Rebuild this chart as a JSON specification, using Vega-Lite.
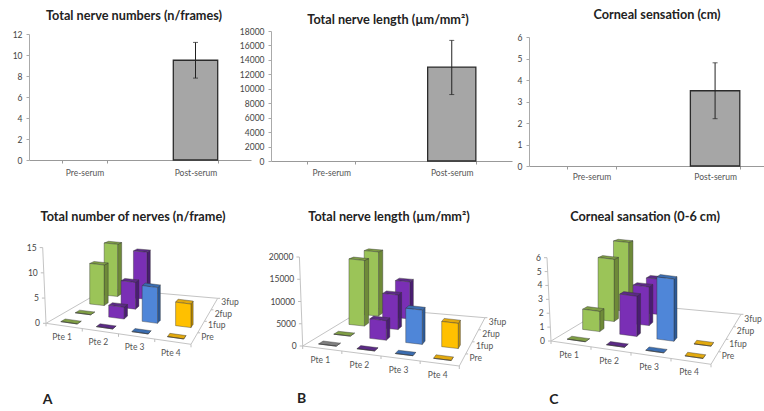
{"$schema":"https://vega.github.io/schema/vega-lite/v6.json","padding":{"left":12,"top":0,"right":0,"bottom":0},"background":"white","spacing":30,
"config":{"view":{"stroke":null},"font":"Lato","concat":{"spacing":0}},
"params":[{"name":"P","value":{"A":{"x00":45,"y00":322.3,"x10":190,"y10":343.3,"x11":216.7,"y11":297.3,"x01":105,"y01":287.7,"H":75.7,"zmax":15,"sl":3.3,"ox":12,"oy":225},"B":{"x00":301.7,"y00":345,"x10":458.3,"y10":365,"x11":484,"y11":316.7,"x01":365,"y01":306.7,"H":89,"zmax":20000,"sl":3.3,"ox":268,"oy":225},"C":{"x00":550,"y00":340,"x10":710,"y10":363.3,"x11":740,"y11":313.3,"x01":614,"y01":301.7,"H":83.3,"zmax":6,"sl":4,"ox":524,"oy":225}}}],
"datasets":{"summary":[
{"panel":"A","group":"Pre-serum","value":0},{"panel":"A","group":"Post-serum","value":9.5,"lo":7.8,"hi":11.2},
{"panel":"B","group":"Pre-serum","value":0},{"panel":"B","group":"Post-serum","value":13000,"lo":9200,"hi":16700},
{"panel":"C","group":"Pre-serum","value":0},{"panel":"C","group":"Post-serum","value":3.5,"lo":2.2,"hi":4.8}],
"followup":[
{"panel":"A","kind":"line","line":"floor","seq":0,"p":0,"v":0,"value":0},{"panel":"A","kind":"line","line":"floor","seq":1,"p":4,"v":0,"value":0},{"panel":"A","kind":"line","line":"floor","seq":2,"p":4,"v":4,"value":0},{"panel":"A","kind":"line","line":"floor","seq":3,"p":0,"v":4,"value":0},{"panel":"A","kind":"line","line":"floor","seq":4,"p":0,"v":0,"value":0},{"panel":"A","kind":"line","line":"axis","seq":0,"p":0,"v":0,"value":0},{"panel":"A","kind":"line","line":"axis","seq":1,"p":0,"v":0,"value":15},
{"panel":"B","kind":"line","line":"floor","seq":0,"p":0,"v":0,"value":0},{"panel":"B","kind":"line","line":"floor","seq":1,"p":4,"v":0,"value":0},{"panel":"B","kind":"line","line":"floor","seq":2,"p":4,"v":4,"value":0},{"panel":"B","kind":"line","line":"floor","seq":3,"p":0,"v":4,"value":0},{"panel":"B","kind":"line","line":"floor","seq":4,"p":0,"v":0,"value":0},{"panel":"B","kind":"line","line":"axis","seq":0,"p":0,"v":0,"value":0},{"panel":"B","kind":"line","line":"axis","seq":1,"p":0,"v":0,"value":20000},
{"panel":"C","kind":"line","line":"floor","seq":0,"p":0,"v":0,"value":0},{"panel":"C","kind":"line","line":"floor","seq":1,"p":4,"v":0,"value":0},{"panel":"C","kind":"line","line":"floor","seq":2,"p":4,"v":4,"value":0},{"panel":"C","kind":"line","line":"floor","seq":3,"p":0,"v":4,"value":0},{"panel":"C","kind":"line","line":"floor","seq":4,"p":0,"v":0,"value":0},{"panel":"C","kind":"line","line":"axis","seq":0,"p":0,"v":0,"value":0},{"panel":"C","kind":"line","line":"axis","seq":1,"p":0,"v":0,"value":6},

{"panel":"A","kind":"ptick","p":0,"v":0,"value":0},{"panel":"A","kind":"ptick","p":1,"v":0,"value":0},{"panel":"A","kind":"ptick","p":2,"v":0,"value":0},{"panel":"A","kind":"ptick","p":3,"v":0,"value":0},{"panel":"A","kind":"ptick","p":4,"v":0,"value":0},{"panel":"A","kind":"vtick","p":4,"v":1,"value":0},{"panel":"A","kind":"vtick","p":4,"v":2,"value":0},{"panel":"A","kind":"vtick","p":4,"v":3,"value":0},{"panel":"A","kind":"vtick","p":4,"v":4,"value":0},
{"panel":"B","kind":"ptick","p":0,"v":0,"value":0},{"panel":"B","kind":"ptick","p":1,"v":0,"value":0},{"panel":"B","kind":"ptick","p":2,"v":0,"value":0},{"panel":"B","kind":"ptick","p":3,"v":0,"value":0},{"panel":"B","kind":"ptick","p":4,"v":0,"value":0},{"panel":"B","kind":"vtick","p":4,"v":1,"value":0},{"panel":"B","kind":"vtick","p":4,"v":2,"value":0},{"panel":"B","kind":"vtick","p":4,"v":3,"value":0},{"panel":"B","kind":"vtick","p":4,"v":4,"value":0},
{"panel":"C","kind":"ptick","p":0,"v":0,"value":0},{"panel":"C","kind":"ptick","p":1,"v":0,"value":0},{"panel":"C","kind":"ptick","p":2,"v":0,"value":0},{"panel":"C","kind":"ptick","p":3,"v":0,"value":0},{"panel":"C","kind":"ptick","p":4,"v":0,"value":0},{"panel":"C","kind":"vtick","p":4,"v":1,"value":0},{"panel":"C","kind":"vtick","p":4,"v":2,"value":0},{"panel":"C","kind":"vtick","p":4,"v":3,"value":0},{"panel":"C","kind":"vtick","p":4,"v":4,"value":0},

{"panel":"A","kind":"zlab","p":0,"v":0,"value":0,"label":"0"},{"panel":"A","kind":"zlab","p":0,"v":0,"value":5,"label":"5"},{"panel":"A","kind":"zlab","p":0,"v":0,"value":10,"label":"10"},{"panel":"A","kind":"zlab","p":0,"v":0,"value":15,"label":"15"},
{"panel":"B","kind":"zlab","p":0,"v":0,"value":0,"label":"0"},{"panel":"B","kind":"zlab","p":0,"v":0,"value":5000,"label":"5000"},{"panel":"B","kind":"zlab","p":0,"v":0,"value":10000,"label":"10000"},{"panel":"B","kind":"zlab","p":0,"v":0,"value":15000,"label":"15000"},{"panel":"B","kind":"zlab","p":0,"v":0,"value":20000,"label":"20000"},
{"panel":"C","kind":"zlab","p":0,"v":0,"value":0,"label":"0"},{"panel":"C","kind":"zlab","p":0,"v":0,"value":1,"label":"1"},{"panel":"C","kind":"zlab","p":0,"v":0,"value":2,"label":"2"},{"panel":"C","kind":"zlab","p":0,"v":0,"value":3,"label":"3"},{"panel":"C","kind":"zlab","p":0,"v":0,"value":4,"label":"4"},{"panel":"C","kind":"zlab","p":0,"v":0,"value":5,"label":"5"},{"panel":"C","kind":"zlab","p":0,"v":0,"value":6,"label":"6"},

{"panel":"A","kind":"plab","p":0.5,"v":0,"value":0,"label":"Pte 1"},{"panel":"A","kind":"plab","p":1.5,"v":0,"value":0,"label":"Pte 2"},{"panel":"A","kind":"plab","p":2.5,"v":0,"value":0,"label":"Pte 3"},{"panel":"A","kind":"plab","p":3.5,"v":0,"value":0,"label":"Pte 4"},
{"panel":"B","kind":"plab","p":0.5,"v":0,"value":0,"label":"Pte 1"},{"panel":"B","kind":"plab","p":1.5,"v":0,"value":0,"label":"Pte 2"},{"panel":"B","kind":"plab","p":2.5,"v":0,"value":0,"label":"Pte 3"},{"panel":"B","kind":"plab","p":3.5,"v":0,"value":0,"label":"Pte 4"},
{"panel":"C","kind":"plab","p":0.5,"v":0,"value":0,"label":"Pte 1"},{"panel":"C","kind":"plab","p":1.5,"v":0,"value":0,"label":"Pte 2"},{"panel":"C","kind":"plab","p":2.5,"v":0,"value":0,"label":"Pte 3"},{"panel":"C","kind":"plab","p":3.5,"v":0,"value":0,"label":"Pte 4"},
{"panel":"A","kind":"vlab","p":4,"v":0.5,"value":0,"label":"Pre"},{"panel":"A","kind":"vlab","p":4,"v":1.5,"value":0,"label":"1fup"},{"panel":"A","kind":"vlab","p":4,"v":2.5,"value":0,"label":"2fup"},{"panel":"A","kind":"vlab","p":4,"v":3.5,"value":0,"label":"3fup"},
{"panel":"B","kind":"vlab","p":4,"v":0.5,"value":0,"label":"Pre"},{"panel":"B","kind":"vlab","p":4,"v":1.5,"value":0,"label":"1fup"},{"panel":"B","kind":"vlab","p":4,"v":2.5,"value":0,"label":"2fup"},{"panel":"B","kind":"vlab","p":4,"v":3.5,"value":0,"label":"3fup"},
{"panel":"C","kind":"vlab","p":4,"v":0.5,"value":0,"label":"Pre"},{"panel":"C","kind":"vlab","p":4,"v":1.5,"value":0,"label":"1fup"},{"panel":"C","kind":"vlab","p":4,"v":2.5,"value":0,"label":"2fup"},{"panel":"C","kind":"vlab","p":4,"v":3.5,"value":0,"label":"3fup"},
{"panel":"A","kind":"letter","p":-0.05,"v":0,"value":-15.2,"label":"A"},{"panel":"B","kind":"letter","p":-0.08,"v":0,"value":-12100,"label":"B"},{"panel":"C","kind":"letter","p":0,"v":0,"value":-4.25,"label":"C"},

{"panel":"A","kind":"bar","series":"Pte 1","p":0,"v":3,"value":12.4},{"panel":"A","kind":"bar","series":"Pte 2","p":1,"v":3,"value":11.2},
{"panel":"A","kind":"bar","series":"Pte 1","p":0,"v":2,"value":9.1},{"panel":"A","kind":"bar","series":"Pte 2","p":1,"v":2,"value":6},
{"panel":"A","kind":"bar","series":"Pte 1","p":0,"v":1,"value":0},{"panel":"A","kind":"bar","series":"Pte 2","p":1,"v":1,"value":2.5},{"panel":"A","kind":"bar","series":"Pte 3","p":2,"v":1,"value":7.6},{"panel":"A","kind":"bar","series":"Pte 4","p":3,"v":1,"value":5},
{"panel":"A","kind":"bar","series":"Pte 1","p":0,"v":0,"value":0},{"panel":"A","kind":"bar","series":"Pte 2","p":1,"v":0,"value":0},{"panel":"A","kind":"bar","series":"Pte 3","p":2,"v":0,"value":0},{"panel":"A","kind":"bar","series":"Pte 4","p":3,"v":0,"value":0},

{"panel":"B","kind":"bar","series":"Pte 1","p":0,"v":3,"value":17300},{"panel":"B","kind":"bar","series":"Pte 2","p":1,"v":3,"value":10000},
{"panel":"B","kind":"bar","series":"Pte 1","p":0,"v":2,"value":16700},{"panel":"B","kind":"bar","series":"Pte 2","p":1,"v":2,"value":8800},
{"panel":"B","kind":"bar","series":"Pte 1","p":0,"v":1,"value":0},{"panel":"B","kind":"bar","series":"Pte 2","p":1,"v":1,"value":4700},{"panel":"B","kind":"bar","series":"Pte 3","p":2,"v":1,"value":8260},{"panel":"B","kind":"bar","series":"Pte 4","p":3,"v":1,"value":6070},
{"panel":"B","kind":"bar","series":"Grey","p":0,"v":0,"value":0},{"panel":"B","kind":"bar","series":"Pte 2","p":1,"v":0,"value":0},{"panel":"B","kind":"bar","series":"Pte 3","p":2,"v":0,"value":0},{"panel":"B","kind":"bar","series":"Pte 4","p":3,"v":0,"value":0},

{"panel":"C","kind":"bar","series":"Pte 1","p":0,"v":3,"value":5.96},{"panel":"C","kind":"bar","series":"Pte 2","p":1,"v":3,"value":3.05},
{"panel":"C","kind":"bar","series":"Pte 1","p":0,"v":2,"value":5.07},{"panel":"C","kind":"bar","series":"Pte 2","p":1,"v":2,"value":3.15},
{"panel":"C","kind":"bar","series":"Pte 1","p":0,"v":1,"value":1.56},{"panel":"C","kind":"bar","series":"Pte 2","p":1,"v":1,"value":3.1},{"panel":"C","kind":"bar","series":"Pte 3","p":2,"v":1,"value":4.8},{"panel":"C","kind":"bar","series":"Pte 4","p":3,"v":1,"value":0},
{"panel":"C","kind":"bar","series":"Pte 1","p":0,"v":0,"value":0},{"panel":"C","kind":"bar","series":"Pte 2","p":1,"v":0,"value":0},{"panel":"C","kind":"bar","series":"Pte 3","p":2,"v":0,"value":0},{"panel":"C","kind":"bar","series":"Pte 4","p":3,"v":0,"value":0}
]},
"vconcat":[
{"hconcat":[
{"width":258,"height":166,"title":{"text":"Total nerve numbers (n/frames)","anchor":"middle","dx":-8,"offset":-23,"fontSize":12.7,"font":"Lato","fontWeight":"bold","color":"#222"},
"data":{"name":"summary"},"transform":[{"filter":"datum.panel==='A'"}],
"encoding":{"x":{"field":"group","type":"nominal","sort":null,"scale":{"domain":["Pre-serum","Post-serum"],"range":[16,238],"paddingInner":0.6,"paddingOuter":0.3},"axis":{"title":null,"tickBand":"extent","labelAngle":0,"labelFontSize":8.5,"labelColor":"#555","domainColor":"#999","tickColor":"#999","tickSize":3,"labelPadding":5,"offset":-6}},
"y":{"type":"quantitative","scale":{"domain":[0,12],"range":[160,34],"nice":false},"axis":{"title":null,"format":"d","values":[0,2,4,6,8,10,12],"grid":false,"labelFontSize":8.5,"labelColor":"#444","domainColor":"#aaa","tickColor":"#aaa","tickSize":3,"labelPadding":4,"offset":-16}}},
"layer":[{"transform":[{"filter":"datum.value>0"}],"mark":{"type":"bar","fill":"#A6A6A6","stroke":"#2b2b2b","strokeWidth":1.3},"encoding":{"y":{"field":"value"}}},
{"transform":[{"filter":"datum.value>0"}],"mark":{"type":"rule","color":"#222","strokeWidth":1},"encoding":{"y":{"field":"lo"},"y2":{"field":"hi"}}},
{"transform":[{"filter":"datum.value>0"}],"mark":{"type":"tick","color":"#222","size":5,"thickness":1},"encoding":{"y":{"field":"lo"}}},
{"transform":[{"filter":"datum.value>0"}],"mark":{"type":"tick","color":"#222","size":5,"thickness":1},"encoding":{"y":{"field":"hi"}}}]},
{"width":258,"height":166,"title":{"text":"Total nerve length (µm/mm²)","anchor":"middle","dx":-12,"offset":-27,"fontSize":12.7,"font":"Lato","fontWeight":"bold","color":"#222"},
"data":{"name":"summary"},"transform":[{"filter":"datum.panel==='B'"}],
"encoding":{"x":{"field":"group","type":"nominal","sort":null,"scale":{"domain":["Pre-serum","Post-serum"],"range":[0,241],"paddingInner":0.6,"paddingOuter":0.3},"axis":{"title":null,"tickBand":"extent","labelAngle":0,"labelFontSize":8.5,"labelColor":"#555","domainColor":"#999","tickColor":"#999","tickSize":3,"labelPadding":4,"offset":-5}},
"y":{"type":"quantitative","scale":{"domain":[0,18000],"range":[161,31],"nice":false},"axis":{"title":null,"format":"d","values":[0,2000,4000,6000,8000,10000,12000,14000,16000,18000],"grid":false,"labelFontSize":8.5,"labelColor":"#444","domainColor":"#aaa","tickColor":"#aaa","tickSize":3,"labelPadding":4}}},
"layer":[{"transform":[{"filter":"datum.value>0"}],"mark":{"type":"bar","fill":"#A6A6A6","stroke":"#2b2b2b","strokeWidth":1.3},"encoding":{"y":{"field":"value"}}},
{"transform":[{"filter":"datum.value>0"}],"mark":{"type":"rule","color":"#222","strokeWidth":1},"encoding":{"y":{"field":"lo"},"y2":{"field":"hi"}}},
{"transform":[{"filter":"datum.value>0"}],"mark":{"type":"tick","color":"#222","size":5,"thickness":1},"encoding":{"y":{"field":"lo"}}},
{"transform":[{"filter":"datum.value>0"}],"mark":{"type":"tick","color":"#222","size":5,"thickness":1},"encoding":{"y":{"field":"hi"}}}]},
{"width":236,"height":166,"title":{"text":"Corneal sensation (cm)","anchor":"middle","dx":10,"offset":-22,"fontSize":12.7,"font":"Lato","fontWeight":"bold","color":"#222"},
"data":{"name":"summary"},"transform":[{"filter":"datum.panel==='C'"}],
"encoding":{"x":{"field":"group","type":"nominal","sort":null,"scale":{"domain":["Pre-serum","Post-serum"],"paddingInner":0.6,"paddingOuter":0.255,"align":0.6},"axis":{"title":null,"tickBand":"extent","labelAngle":0,"labelFontSize":8.5,"labelColor":"#555","domainColor":"#999","tickColor":"#999","tickSize":3,"labelPadding":3}},
"y":{"type":"quantitative","scale":{"domain":[0,6],"range":[166,37],"nice":false},"axis":{"title":null,"format":"d","values":[0,1,2,3,4,5,6],"grid":false,"labelFontSize":8.5,"labelColor":"#444","domainColor":"#aaa","tickColor":"#aaa","tickSize":3,"labelPadding":4}}},
"layer":[{"transform":[{"filter":"datum.value>0"}],"mark":{"type":"bar","fill":"#A6A6A6","stroke":"#2b2b2b","strokeWidth":1.3},"encoding":{"y":{"field":"value"}}},
{"transform":[{"filter":"datum.value>0"}],"mark":{"type":"rule","color":"#222","strokeWidth":1},"encoding":{"y":{"field":"lo"},"y2":{"field":"hi"}}},
{"transform":[{"filter":"datum.value>0"}],"mark":{"type":"tick","color":"#222","size":5,"thickness":1},"encoding":{"y":{"field":"lo"}}},
{"transform":[{"filter":"datum.value>0"}],"mark":{"type":"tick","color":"#222","size":5,"thickness":1},"encoding":{"y":{"field":"hi"}}}]}
],"bounds":"flush","spacing":0},
{"data":{"name":"followup"},
"transform":[{"calculate":"{'A':'Total number of nerves (n/frame)','B':'Total nerve length (µm/mm²)','C':'Corneal sansation (0-6 cm)'}[datum.panel]","as":"title"}],
"facet":{"field":"title","type":"nominal","sort":["Total number of nerves (n/frame)","Total nerve length (µm/mm²)","Corneal sansation (0-6 cm)"],"columns":3,"header":{"title":null,"labelFontSize":12.7,"labelFont":"Lato","labelFontWeight":"bold","labelColor":"#222","labelPadding":2}},
"columns":3,"spacing":16,"bounds":"flush",
"spec":{"width":240,"height":186,
"transform":[
{"calculate":"datum.kind==='bar'?[0,1,2]:[0]","as":"f"},{"flatten":["f"]},
{"calculate":"datum.kind==='bar'?[0,1,2,3]:[datum.seq||0]","as":"k"},{"flatten":["k"]},
{"calculate":"datum.f===0?1:((datum.k===1||datum.k===2)?1:0)","as":"a"},
{"calculate":"datum.f===2?0:(datum.f===1?(datum.k>=2?1:0):((datum.k===1||datum.k===2)?1:0))","as":"b"},
{"calculate":"datum.f===1?1:(datum.k>=2?1:0)","as":"c"},
{"calculate":"datum.kind==='bar'?(datum.p+0.27+0.46*datum.a)/4:datum.p/4","as":"U"},
{"calculate":"datum.kind==='bar'?(datum.v+0.35+0.3*datum.b)/4:datum.v/4","as":"W"},
{"calculate":"(datum.kind==='bar'?datum.c*datum.value:datum.value)/P[datum.panel].zmax","as":"Z"},
{"calculate":"P[datum.panel].x00*(1-datum.U)*(1-datum.W)+P[datum.panel].x10*datum.U*(1-datum.W)+P[datum.panel].x11*datum.U*datum.W+P[datum.panel].x01*(1-datum.U)*datum.W-P[datum.panel].ox-(datum.kind==='bar'?0:datum.Z*P[datum.panel].sl)","as":"X"},
{"calculate":"P[datum.panel].y00*(1-datum.U)*(1-datum.W)+P[datum.panel].y10*datum.U*(1-datum.W)+P[datum.panel].y11*datum.U*datum.W+P[datum.panel].y01*(1-datum.U)*datum.W-datum.Z*P[datum.panel].H*(1-0.2*datum.W)-P[datum.panel].oy","as":"Y"},
{"calculate":"datum.series+'-'+datum.f","as":"shade"},
{"calculate":"datum.p+'-'+datum.v+'-'+datum.f","as":"key"}],
"encoding":{"x":{"field":"X","type":"quantitative","scale":{"domain":[0,240],"nice":false,"zero":false},"axis":null},"y":{"field":"Y","type":"quantitative","scale":{"domain":[0,186],"nice":false,"zero":false,"reverse":true},"axis":null}},
"layer":[
{"transform":[{"filter":"datum.kind==='line'"}],"mark":{"type":"line","stroke":"#C4C4C4","strokeWidth":1},"encoding":{"detail":{"field":"line"},"order":{"field":"k","type":"quantitative"}}},
{"transform":[{"filter":"datum.kind==='zlab'||datum.kind==='ptick'||datum.kind==='vtick'"}],"mark":{"type":"point","filled":false,"size":16,"stroke":"#BDBDBD","strokeWidth":1,"opacity":1},"encoding":{"shape":{"field":"kind","type":"nominal","legend":null,"scale":{"domain":["zlab","ptick","vtick"],"range":["M0 0L-1.5 0","M0 0L0 1.5","M0 0L1.2 0"]}}}},
{"transform":[{"filter":"datum.kind==='bar'"}],"mark":{"type":"line","interpolate":"linear-closed","stroke":"#333","strokeWidth":0.4},"encoding":{"detail":{"field":"key"},"order":{"field":"k","type":"quantitative"},"fill":{"field":"shade","type":"nominal","legend":null,"scale":{"domain":["Pte 1-0","Pte 1-1","Pte 1-2","Pte 2-0","Pte 2-1","Pte 2-2","Pte 3-0","Pte 3-1","Pte 3-2","Pte 4-0","Pte 4-1","Pte 4-2","Grey-0","Grey-1","Grey-2"],"range":["#6E8A38","#7F9E45","#9BC458","#4A1D72","#5B2A85","#7A2FB5","#2C5A98","#3B6DB0","#4F86D8","#C29000","#E2A90E","#FFC000","#666666","#808080","#808080"]}}}},
{"transform":[{"filter":"datum.kind==='zlab'"}],"mark":{"type":"text","align":"right","baseline":"middle","dx":-6,"fontSize":8.5,"color":"#444"},"encoding":{"text":{"field":"label"}}},
{"transform":[{"filter":"datum.kind==='plab'"}],"mark":{"type":"text","align":"center","baseline":"middle","dy":11,"dx":-2,"fontSize":8.5,"color":"#555"},"encoding":{"text":{"field":"label"}}},
{"transform":[{"filter":"datum.kind==='vlab'"}],"mark":{"type":"text","align":"left","baseline":"middle","dx":7,"dy":-2,"fontSize":8.5,"color":"#555"},"encoding":{"text":{"field":"label"}}},
{"transform":[{"filter":"datum.kind==='letter'"}],"mark":{"type":"text","align":"center","baseline":"middle","fontSize":14,"fontWeight":"bold","color":"#222"},"encoding":{"text":{"field":"label"}}}
]}}
]}
